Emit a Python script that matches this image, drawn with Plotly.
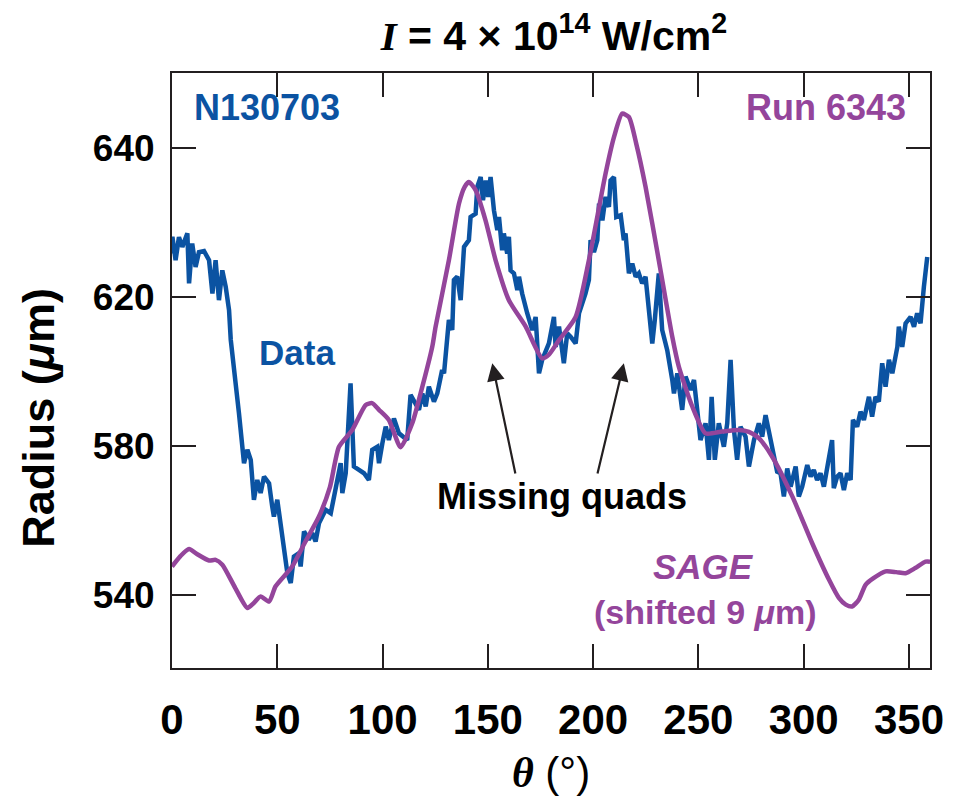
import plotly.graph_objects as go

# ---------------- data ----------------
data_theta = [0.0, 0.2, 1.7, 3.3, 4.9, 7.3, 8.1, 9.6, 11.2, 12.8, 15.2, 17.6, 19.2, 20.7, 22.3, 23.9,
              25.5, 27.1, 27.9, 30.2, 31.8, 34.2, 35.8, 37.4, 38.9, 40.5, 42.1, 43.7, 46.1, 47.6, 48.4,
              50.0, 52.4, 54.8, 56.4, 57.9, 60.3, 61.1, 62.7, 65.0, 66.6, 68.2, 69.8, 73.0, 75.4, 77.7,
              80.1, 80.9, 82.5, 84.8, 86.4, 88.8, 91.2, 93.5, 95.1, 97.5, 98.3, 99.9, 101.5, 103.0,
              105.4, 107.8, 111.7, 113.3, 115.7, 117.3, 118.9, 120.5, 122.0, 124.4, 126.0, 128.3,
              129.2, 130.0, 130.7, 131.5, 133.1, 133.9, 135.5, 137.1, 138.7, 141.0, 141.8, 144.2,
              145.0, 146.6, 147.7, 149.0, 150.2, 151.3, 152.9, 154.5, 155.3, 156.8, 157.6, 159.2,
              160.0, 160.8, 162.4, 164.0, 164.8, 166.3, 168.7, 171.1, 172.7, 174.3, 175.8, 179.0,
              181.4, 182.2, 183.8, 186.1, 187.7, 189.3, 191.7, 193.3, 196.4, 198.0, 198.8, 200.4,
              202.0, 202.8, 204.4, 205.9, 207.5, 208.3, 209.9, 211.0, 213.1, 214.6, 215.4, 217.0,
              218.6, 220.2, 221.7, 223.3, 224.9, 228.1, 229.3, 231.2, 232.8, 235.2, 237.6, 238.4,
              240.0, 242.3, 243.9, 246.3, 247.9, 249.4, 251.0, 253.4, 255.0, 256.3, 257.8, 259.7,
              262.1, 263.7, 265.3, 266.9, 268.4, 270.0, 272.4, 274.0, 276.4, 278.7, 280.3, 281.9,
              284.3, 285.8, 287.4, 289.0, 290.6, 292.2, 293.8, 296.2, 297.7, 299.3, 301.7, 303.3,
              304.8, 306.4, 308.0, 309.6, 311.2, 313.5, 314.3, 315.9, 317.5, 319.1, 320.7, 322.3,
              323.4, 325.4, 327.0, 328.6, 331.0, 332.5, 334.1, 335.7, 337.3, 338.9, 340.5, 342.1,
              344.5, 345.2, 346.8, 348.4, 350.8, 352.4, 353.9, 355.5, 357.1, 358.7]
data_radius = [631.6, 636.1, 629.8, 636.0, 633.4, 637.0, 623.6, 634.3, 628.0, 632.0, 632.3, 629.8, 620.9,
               629.8, 619.1, 627.1, 622.7, 616.4, 608.5, 597.7, 588.8, 575.4, 579.0, 576.3, 565.6,
               570.9, 567.4, 571.8, 570.0, 563.8, 561.1, 565.6, 554.9, 545.9, 543.3, 550.4, 551.3,
               547.7, 557.1, 554.9, 556.7, 554.4, 559.3, 562.9, 562.0, 568.2, 575.4, 567.4, 572.7,
               596.8, 574.5, 573.6, 572.7, 570.9, 579.0, 579.8, 575.4, 580.7, 585.2, 581.6, 587.4,
               583.4, 581.6, 593.7, 591.5, 589.7, 594.1, 590.6, 595.9, 591.9, 594.1, 600.4, 599.5,
               605.7, 608.4, 613.8, 611.1, 624.5, 625.4, 619.1, 633.4, 635.2, 641.4, 642.3, 649.5,
               652.1, 645.9, 651.2, 646.8, 652.1, 643.2, 637.9, 641.4, 632.5, 637.0, 631.6, 636.1,
               627.1, 626.3, 621.8, 625.4, 620.9, 615.6, 611.1, 614.6, 599.5, 603.1, 607.5, 614.6,
               606.6, 612.0, 602.2, 610.2, 609.3, 607.5, 615.6, 620.9, 624.5, 635.2, 632.0, 635.2,
               645.0, 640.5, 646.8, 644.1, 651.2, 652.1, 641.4, 641.9, 635.2, 637.0, 626.3, 628.9,
               625.4, 626.3, 623.6, 625.4, 607.5, 613.8, 626.3, 611.1, 605.7, 597.7, 594.1, 599.5,
               589.7, 598.6, 595.0, 597.7, 590.6, 581.6, 586.1, 576.3, 593.2, 576.3, 586.1, 579.8,
               586.1, 603.1, 584.3, 576.3, 585.2, 582.5, 574.5, 581.6, 586.1, 582.5, 588.3, 581.6,
               578.1, 573.1, 572.7, 566.5, 574.0, 569.1, 574.5, 566.5, 569.1, 574.9, 571.8, 573.6,
               570.9, 572.7, 569.1, 574.5, 581.6, 568.7, 571.8, 572.7, 568.2, 572.7, 570.9, 587.0,
               585.2, 589.2, 587.0, 593.2, 587.9, 593.2, 591.9, 602.2, 595.9, 603.1, 599.5, 606.6,
               612.0, 606.6, 612.9, 614.6, 612.0, 615.6, 612.9, 622.7, 630.7]

sage_theta = [0, 4, 8.1, 12, 17.6, 20.7, 23.9, 30, 35.8, 39, 42.1, 46.1, 49.2, 57.1, 63, 69.8, 75, 79.3,
              85.6, 92.0, 95, 98.3, 103, 108.6, 114.1, 118, 123.6, 125.2, 131.5, 136.3, 139, 141.0,
              144.2, 148.9, 153.7, 160, 168, 175.8, 179, 183.8, 191.7, 198, 205.9, 210, 213.8, 217,
              220.5, 224.9, 231.2, 237.6, 240.7, 247.1, 253.4, 261.3, 269.2, 274, 278.7, 285, 294.6,
              304, 312, 316.7, 320, 323, 326.2, 329.4, 333, 338.9, 344, 348.4, 353, 357.9, 360]
sage_radius = [547.7, 550.5, 552.4, 551.0, 549.3, 549.5, 548.2, 542.0, 536.6, 538.0, 539.7, 538.3, 542.4,
               547.7, 554.0, 561.1, 569.0, 579.8, 584.3, 591.0, 591.5, 589.7, 587.0, 579.7, 586.1,
               594.0, 606.6, 612.0, 629.8, 645.0, 649.5, 650.8, 648.6, 640.5, 629.8, 619.1, 612.0,
               603.5, 604.5, 608.4, 614.6, 629.8, 653.0, 663.0, 669.1, 668.2, 661.0, 649.5, 629.8,
               609.3, 601.3, 590.6, 583.4, 583.9, 584.3, 583.8, 582.1, 577.2, 566.5, 554.0, 544.2,
               539.3, 537.5, 537.0, 538.8, 542.8, 544.5, 546.4, 546.2, 545.9, 547.3, 549.0, 549.0]

x_tickvals = [0, 50, 100, 150, 200, 250, 300, 350]
y_tickvals = [540, 580, 620, 660]
y_ticktext = ["540", "580", "620", "640"]

BLUE = "#0b53a2"
PURPLE = "#94459b"
INK = "#231f20"
FONT = "Liberation Sans, Arial, sans-serif"

fig = go.Figure()
fig.add_trace(go.Scatter(x=data_theta, y=data_radius, mode="lines",
                         line=dict(color=BLUE, width=4.5),
                         name="Data", showlegend=False))
fig.add_trace(go.Scatter(x=sage_theta, y=sage_radius, mode="lines",
                         line=dict(color=PURPLE, width=4.5, shape="spline", smoothing=0.6),
                         name="SAGE", showlegend=False))

annotations = [
    dict(text="<b>N130703</b>", x=0.026, y=0.9415, xref="paper", yref="paper",
         xanchor="left", yanchor="middle", showarrow=False,
         font=dict(family=FONT, size=36, color=BLUE)),
    dict(text="<b>Run 6343</b>", x=0.9714, y=0.9415, xref="paper", yref="paper",
         xanchor="right", yanchor="middle", showarrow=False,
         font=dict(family=FONT, size=36, color=PURPLE)),
    dict(text="<b>Data</b>", x=0.1117, y=0.530, xref="paper", yref="paper",
         xanchor="left", yanchor="middle", showarrow=False,
         font=dict(family=FONT, size=35, color=BLUE)),
    dict(text="<b>Missing quads</b>", x=0.5139, y=0.289, xref="paper", yref="paper",
         xanchor="center", yanchor="middle", showarrow=False,
         font=dict(family=FONT, size=36, color="#000000")),
    dict(text="<b><i>SAGE</i></b>", x=0.7018, y=0.1714, xref="paper", yref="paper",
         xanchor="center", yanchor="middle", showarrow=False,
         font=dict(family=FONT, size=35, color=PURPLE)),
    dict(text="<b>(shifted 9 <i>μ</i>m)</b>", x=0.7032, y=0.0941, xref="paper", yref="paper",
         xanchor="center", yanchor="middle", showarrow=False,
         font=dict(family=FONT, size=34, color=PURPLE)),
    # y-axis title, placed where the reference has it (slightly below the plot centre)
    dict(text="<b>Radius (<i>μ</i>m)</b>", x=-0.176, y=0.42, xref="paper", yref="paper",
         xanchor="center", yanchor="middle", textangle=-90, showarrow=False,
         font=dict(family=FONT, size=45, color="#000000")),
    dict(text="", x=152.1, y=602.2, xref="x", yref="y", ax=23.4, ay=111.7,
         axref="pixel", ayref="pixel", showarrow=True, arrowhead=2, arrowsize=1.6,
         arrowwidth=2.2, arrowcolor=INK, standoff=0),
    dict(text="", x=214.6, y=602.2, xref="x", yref="y", ax=-26.7, ay=111.7,
         axref="pixel", ayref="pixel", showarrow=True, arrowhead=2, arrowsize=1.6,
         arrowwidth=2.2, arrowcolor=INK, standoff=0),
]

fig.update_layout(
    width=955, height=804,
    margin=dict(l=172, r=25, t=73, b=136),
    paper_bgcolor="white", plot_bgcolor="white",
    showlegend=False,
    title=dict(
        text="<b><span style='font-family:Liberation Serif'><i>I</i></span> = 4 × 10<sup>14</sup> W/cm<sup>2</sup></b>",
        x=0.58, xanchor="center", y=0.956, yanchor="middle",
        font=dict(family=FONT, size=41, color="#000000")),
    annotations=annotations,
)

fig.update_xaxes(
    range=[0, 360], tickvals=x_tickvals, ticks="inside", ticklen=24, tickwidth=2,
    tickcolor=INK, showline=True, linewidth=2, linecolor=INK, mirror="ticks",
    showgrid=False, zeroline=False,
    tickfont=dict(family=FONT, size=42, color="#000000", weight="bold"),
    ticklabelstandoff=14,
    title=dict(text="<b><i><span style='font-family:Liberation Serif'>θ</span></i></b> (°)",
               font=dict(family=FONT, size=42, color="#000000"), standoff=15),
)
fig.update_yaxes(
    range=[520.5, 680], tickvals=y_tickvals, ticktext=y_ticktext, ticks="inside", ticklen=24,
    tickwidth=2, tickcolor=INK, showline=True, linewidth=2, linecolor=INK, mirror="ticks",
    showgrid=False, zeroline=False,
    tickfont=dict(family=FONT, size=37, color="#000000", weight="bold"),
    ticklabelstandoff=8,
)

fig.write_html("out.html")
